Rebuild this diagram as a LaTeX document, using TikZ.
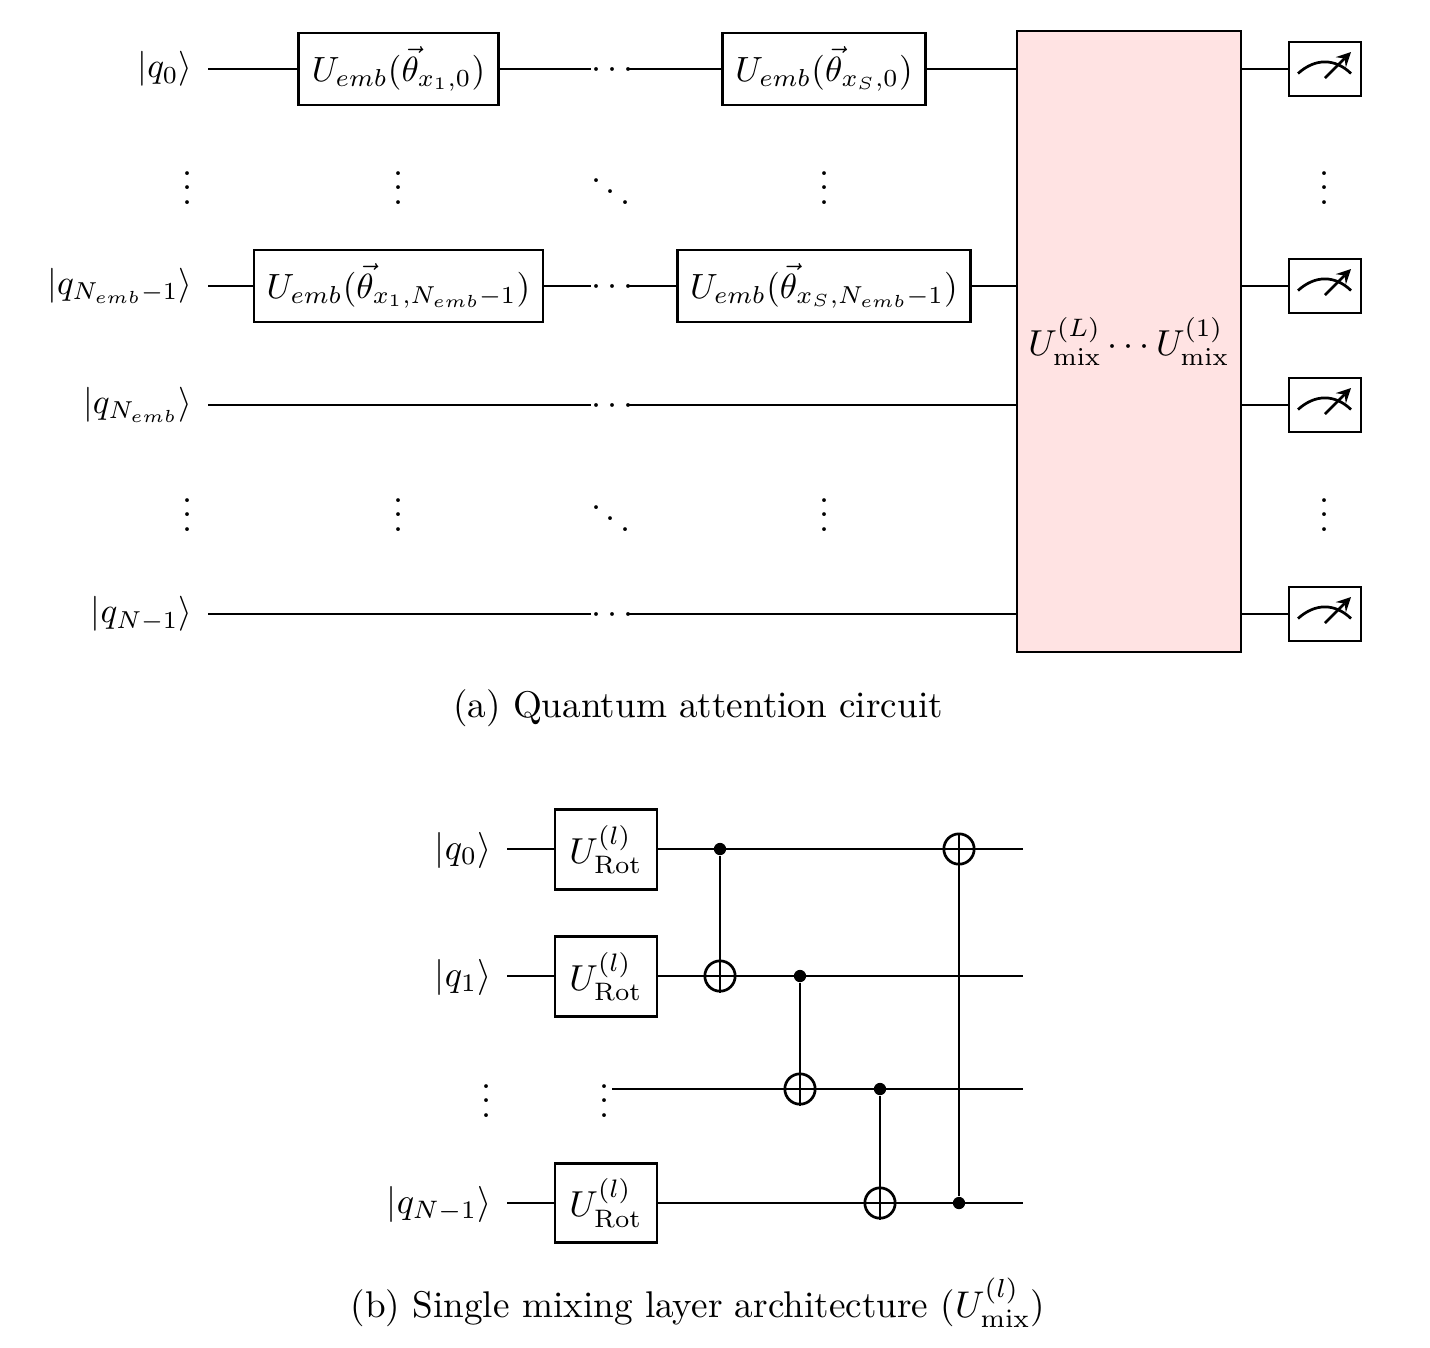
\documentclass[tikz,border=0pt]{standalone}
\usepackage{amsmath, amssymb}
\usepackage{tikz}
\usetikzlibrary{arrows,%
                shapes,positioning}
\colorlet{mixpink}{red!11}
\tikzset{
  wire/.style={line width=0.75pt},
  ketlabel/.style={anchor=east,inner sep=0pt,scale=0.97},
  ketlabelb/.style={anchor=east,inner sep=0pt},
  gatebox/.style={draw,line width=0.75pt,inner sep=0pt,minimum height=20pt},
  mixbox/.style={draw,line width=0.75pt,fill=mixpink,inner sep=0pt,minimum width=62pt,minimum height=172pt},
  meterbox/.style={draw,line width=0.75pt,minimum width=20pt,minimum height=15pt,inner sep=0pt},
  rotbox/.style={draw,line width=0.75pt,minimum width=28.25pt,minimum height=22pt,inner sep=0pt},
  dotsnode/.style={inner sep=0pt},
  ctrldot/.style={circle,fill=black,minimum size=3.4pt,inner sep=0pt},
  targ/.style={circle,draw,line width=0.75pt,minimum size=8.4pt,inner sep=0pt},
  captext/.style={scale=1.03},
}
\newcommand{\MeterBox}[2]{%
  \node[meterbox] (#1) at (1325,#2) {};
  \draw[line width=0.75pt] ([shift={(-27,4.5)}]#1.center) .. controls ([shift={(-10,-11)}]#1.center) and ([shift={(10,-11)}]#1.center) .. ([shift={(26,4.5)}]#1.center);
  \draw[line width=0.75pt,-stealth] ([shift={(0,9)}]#1.center) -- ([shift={(26,-17)}]#1.center);
}
\begin{document}
\begin{tikzpicture}[x=0.277pt,y=-0.277pt]
\useasboundingbox (0,0) rectangle (1430,1347);
% attention circuit
\node[ketlabel] (k0) at (193,69) {$\lvert q_0\rangle$};
\node[ketlabel] (k1) at (193,286) {$\lvert q_{N_{emb}-1}\rangle$};
\node[ketlabel] (k2) at (193,405) {$\lvert q_{N_{emb}}\rangle$};
\node[ketlabel] (k3) at (193,614) {$\lvert q_{N-1}\rangle$};
\coordinate (s0) at (208,69);
\coordinate (s1) at (208,286);
\coordinate (s2) at (208,405);
\coordinate (s3) at (208,614);
\node[gatebox,minimum width=55.4pt] (e0) at (398.5,69) {\scalebox{0.97}{$U_{emb}(\vec{\theta}_{x_1,0})$}};
\node[gatebox,minimum width=80pt] (e1) at (398.5,286) {\scalebox{0.97}{$U_{emb}(\vec{\theta}_{x_1,N_{emb}-1})$}};
\node[gatebox,minimum width=56.2pt] (g0) at (824,69) {\scalebox{0.97}{$U_{emb}(\vec{\theta}_{x_S,0})$}};
\node[gatebox,minimum width=81.2pt] (g1) at (824,286) {\scalebox{0.97}{$U_{emb}(\vec{\theta}_{x_S,N_{emb}-1})$}};
\node[dotsnode] (d0) at (610,70) {$\cdots\!$};
\node[dotsnode] (d1) at (610,287) {$\cdots\!$};
\node[dotsnode] (d2) at (610,406) {$\cdots\!$};
\node[dotsnode] (d3) at (610,615) {$\cdots\!$};
\node[mixbox] (mix) at (1129,341.5) {$U_{\mathrm{mix}}^{(L)}\cdots U_{\mathrm{mix}}^{(1)}$};
\MeterBox{m0}{69}
\MeterBox{m1}{286}
\MeterBox{m2}{405}
\MeterBox{m3}{614}
\draw[wire] (s0) -- (e0);
\draw[wire] (e0) -- (d0.west |- s0);
\draw[wire] (d0.east |- s0) -- (g0);
\draw[wire] (g0) -- (mix.west |- g0);
\draw[wire] (s1) -- (e1);
\draw[wire] (e1) -- (d1.west |- s1);
\draw[wire] (d1.east |- s1) -- (g1);
\draw[wire] (g1) -- (mix.west |- g1);
\draw[wire] (s2) -- (d2.west |- s2);
\draw[wire] (d2.east |- s2) -- (mix.west |- s2);
\draw[wire] (s3) -- (d3.west |- s3);
\draw[wire] (d3.east |- s3) -- (mix.west |- s3);
\draw[wire] (mix.east |- m0) -- (m0);
\draw[wire] (mix.east |- m1) -- (m1);
\draw[wire] (mix.east |- m2) -- (m2);
\draw[wire] (mix.east |- m3) -- (m3);
\node (v0) at (187.5,177) {$\vdots$};
\node (v1) at (398.5,177) {$\vdots$};
\node (v2) at (611,181) {$\ddots$};
\node (v3) at (824.5,177) {$\vdots$};
\node (v4) at (1324.5,177) {$\vdots$};
\node (v5) at (187.5,504) {$\vdots$};
\node (v6) at (398.5,504) {$\vdots$};
\node (v7) at (611,508) {$\ddots$};
\node (v8) at (824.5,504) {$\vdots$};
\node (v9) at (1324.5,504) {$\vdots$};
\node[captext] (capa) at (698,708) {(a) Quantum attention circuit};
% mixing layer
\node[ketlabelb] (b0) at (492,850) {$\lvert q_0\rangle$};
\node[ketlabelb] (b1) at (492,977) {$\lvert q_1\rangle$};
\node (b2) at (486.5,1090) {$\vdots$};
\node[ketlabelb] (b3) at (492,1204) {$\lvert q_{N-1}\rangle$};
\coordinate (t0) at (507,849);
\coordinate (t1) at (507,976);
\coordinate (t3) at (507,1203);
\coordinate (u0) at (1023,849);
\coordinate (u1) at (1023,976);
\coordinate (u2) at (1023,1089);
\coordinate (u3) at (1023,1203);
\coordinate (w2) at (612,1089);
\node[rotbox] (r0) at (606,849.5) {$U_{\mathrm{Rot}}^{(l)}$};
\node[rotbox] (r1) at (606,976.5) {$U_{\mathrm{Rot}}^{(l)}$};
\node (r2) at (605,1090) {$\vdots$};
\node[rotbox] (r3) at (606,1203) {$U_{\mathrm{Rot}}^{(l)}$};
\draw[wire] (t0) -- (r0.west |- t0);
\draw[wire] (t1) -- (r1.west |- t1);
\draw[wire] (t3) -- (r3.west |- t3);
\draw[wire] (r0.east |- u0) -- (u0);
\draw[wire] (r1.east |- u1) -- (u1);
\draw[wire] (w2) -- (u2);
\draw[wire] (r3.east |- u3) -- (u3);
\node[ctrldot] (c0) at (720,849) {};
\node[targ] (x0) at (720,976) {};
\node[ctrldot] (c1) at (800,976) {};
\node[targ] (x1) at (800,1089) {};
\node[ctrldot] (c2) at (880,1089) {};
\node[targ] (x2) at (880,1203) {};
\node[targ] (x3) at (959,849) {};
\node[ctrldot] (c3) at (959,1203) {};
\draw[wire] (c0) -- (x0.south);
\draw[wire] (c1) -- (x1.south);
\draw[wire] (c2) -- (x2.south);
\draw[wire] (c3) -- (x3.north);
\node[captext] (capb) at (698,1303) {(b) Single mixing layer architecture ($U_{\mathrm{mix}}^{(l)}$)};
\end{tikzpicture}
\end{document}
